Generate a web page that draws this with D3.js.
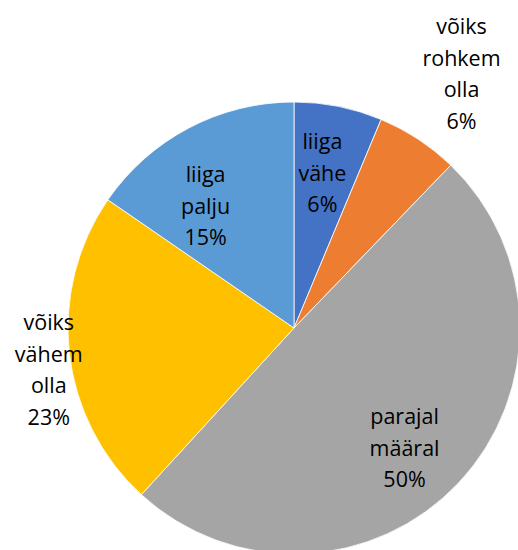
<!DOCTYPE html>
<html>
<head>
<meta charset="utf-8">
<script src="https://cdn.jsdelivr.net/npm/d3@7"></script>
<style>
	html, body { margin: 0; padding: 0; background: #fff; overflow: hidden; }
</style>
</head>
<body>
<div id="chart"></div>
<script>
//data
const categories = [
	['liiga', 'vähe'],
	['võiks', 'rohkem', 'olla'],
	['parajal', 'määral'],
	['võiks', 'vähem', 'olla'],
	['liiga', 'palju'],
];
const values = [6.3, 5.9, 49.6, 22.8, 15.4];
const colors = ['#4472c4', '#ed7d31', '#a5a5a5', '#ffc000', '#5b9bd5'];

render();

function render() {
	let props = {
		width: 518,
		height: 550,
		cx: 294,
		cy: 328,
		radius: 226,
		// label distance from centre, as share of radius (best-fit like)
		labelDist: [0.7, 1.35, 0.72, 1.1, 0.67],
		labelShift: [-1, 0, 4, -3, -8],
		fontSize: 21.5,
		lineHeight: 31.5,
	};
	createVisualization(d3.select('#chart'), props);
}

function createVisualization(container, props) {
	let { width, height, cx, cy, radius, labelDist, labelShift, fontSize, lineHeight } = props;

	const data = values.map((v, i) => ({ name: categories[i], value: v, color: colors[i] }));
	const total = d3.sum(values);

	let pie = d3.pie().sort(null).value((d) => d.value);
	let arc = d3.arc().innerRadius(0).outerRadius(radius);

	let svg = container
		.append('svg')
		.attr('width', width)
		.attr('height', height);

	let g = svg.append('g').attr('transform', translation(cx, cy));

	let slices = pie(data);

	g.selectAll('.slice')
		.data(slices)
		.enter()
		.append('path')
		.attr('class', 'slice')
		.attr('d', arc)
		.attr('fill', (d) => d.data.color)
		.attr('stroke', '#fff')
		.attr('stroke-width', 0.8);

	let labels = g.selectAll('.label')
		.data(slices)
		.enter()
		.append('text')
		.attr('class', 'label')
		.attr('font-family', '"Open Sans", sans-serif')
		.attr('font-size', fontSize)
		.attr('fill', '#000')
		.attr('text-anchor', 'middle')
		.attr('transform', (d, i) => {
			let a = (d.startAngle + d.endAngle) / 2 + (labelShift[i] * Math.PI) / 180;
			let r = radius * labelDist[i];
			return translation(Math.sin(a) * r, -Math.cos(a) * r);
		});

	labels.each(function (d) {
		let lines = d.data.name.concat([Math.round((d.data.value / total) * 100) + '%']);
		let text = d3.select(this);
		let y0 = -((lines.length - 1) * lineHeight) / 2;
		lines.forEach((line, k) => {
			text.append('tspan')
				.attr('x', 0)
				.attr('y', y0 + k * lineHeight)
				.attr('dominant-baseline', 'central')
				.text(line);
		});
	});
}

//utils
function translation(x, y) {
	return `translate(${x}, ${y})`;
}
</script>
</body>
</html>
